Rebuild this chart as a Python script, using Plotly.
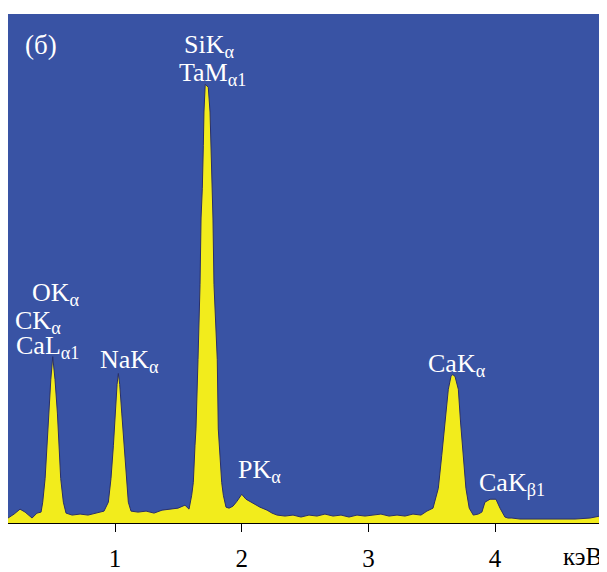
import plotly.graph_objects as go

# Spectrum: energy (keV) and intensity (arbitrary counts)
energy_kev = [
    0.155, 0.203, 0.250, 0.290, 0.345, 0.384, 0.416,
    0.429, 0.448, 0.461, 0.479, 0.493, 0.508, 0.526, 0.545, 0.560, 0.571, 0.592, 0.613,
    0.661, 0.724, 0.787, 0.850, 0.913,
    0.947, 0.968, 0.987, 1.000, 1.016, 1.026, 1.037, 1.053, 1.071, 1.087, 1.105, 1.126,
    1.182, 1.245, 1.308, 1.371, 1.434, 1.497, 1.552, 1.584,
    1.605, 1.618, 1.631, 1.639, 1.655, 1.660, 1.671, 1.679, 1.689, 1.697, 1.702, 1.712,
    1.736, 1.750, 1.758, 1.769, 1.773, 1.781, 1.797, 1.807, 1.815, 1.823, 1.842, 1.855,
    1.876, 1.900, 1.931, 1.963, 2.000, 2.034, 2.089, 2.144, 2.200, 2.239, 2.279,
    2.342, 2.405, 2.468, 2.531, 2.594, 2.657, 2.721, 2.784, 2.847, 2.910, 2.973,
    3.036, 3.099, 3.163, 3.226, 3.289, 3.352, 3.415, 3.462,
    3.510, 3.552, 3.579, 3.605, 3.631, 3.652, 3.665, 3.684, 3.710, 3.728, 3.749, 3.770,
    3.796, 3.828, 3.867, 3.896, 3.920, 3.960, 3.976, 4.007, 4.039, 4.078, 4.102, 4.133,
    4.197, 4.275, 4.394, 4.512, 4.631, 4.749, 4.828, 4.867,
]
counts = [
    5, 9, 14, 11, 5, 10, 11,
    21, 45, 78, 111, 145, 168, 145, 111, 78, 45, 21, 10,
    8, 9, 8, 10, 12,
    21, 45, 78, 111, 140, 151, 140, 111, 78, 45, 21, 12,
    11, 12, 10, 13, 14, 15, 18, 14,
    28, 41, 78, 95, 165, 185, 241, 308, 338, 381, 415, 443,
    440, 415, 381, 338, 308, 241, 185, 165, 95, 78, 41, 28,
    16, 15, 17, 22, 29, 24, 20, 16, 13, 10, 8,
    7, 8, 6, 8, 7, 9, 7, 8, 6, 8,
    7, 8, 9, 7, 8, 7, 9, 8,
    12, 15, 35, 68, 101, 135, 148, 150, 148, 135, 101, 68,
    35, 15, 8, 9, 11, 21, 24, 24, 24, 15, 6, 5,
    5, 4, 4, 4, 4, 4, 5, 7,
]

tick_values = [1, 2, 3, 4]
tick_labels = ["1", "2", "3", "4"]
axis_unit = "кэВ"
panel_label = "(б)"

# Peak labels: text, x (keV), y (counts)
peak_labels = [
    ("SiK<sub>α</sub>", 1.745, 482),
    ("TaM<sub>α1</sub>", 1.77, 453),
    ("OK<sub>α</sub>", 0.535, 231),
    ("CK<sub>α</sub>", 0.394, 203),
    ("CaL<sub>α1</sub>", 0.47, 178),
    ("NaK<sub>α</sub>", 1.114, 164),
    ("PK<sub>α</sub>", 2.137, 53),
    ("CaK<sub>α</sub>", 3.70, 160),
    ("CaK<sub>β1</sub>", 4.135, 39),
]

SERIF = "Liberation Serif"
BLUE = "#3953a4"
YELLOW = "#f2ec1c"

fig = go.Figure()
fig.add_trace(go.Scatter(
    x=energy_kev, y=counts, mode="lines",
    fill="tozeroy", fillcolor=YELLOW,
    line=dict(color="#2a2f6a", width=1),
    hoverinfo="skip", showlegend=False,
))

for text, xv, yv in peak_labels:
    fig.add_annotation(x=xv, y=yv, xref="x", yref="y", text=text,
                       showarrow=False, xanchor="center", yanchor="middle",
                       font=dict(family=SERIF, size=26, color="white"))

fig.add_annotation(x=0.025, y=0.939, xref="paper", yref="paper", text=panel_label,
                   showarrow=False, xanchor="left", yanchor="middle",
                   font=dict(family=SERIF, size=27, color="white"))

fig.add_annotation(x=1.0, y=-0.066, xref="paper", yref="paper", text=axis_unit,
                   showarrow=False, xanchor="right", yanchor="middle",
                   font=dict(family=SERIF, size=25, color="black"))

# The page body has an 8px default margin, so the figure is sized to fit inside it.
fig.update_layout(
    width=599, height=564,
    margin=dict(l=0, r=3, t=6, b=44),
    paper_bgcolor="white", plot_bgcolor=BLUE,
    xaxis=dict(range=[0.155, 4.86], tickvals=tick_values, ticktext=tick_labels,
               ticks="outside", ticklen=8, tickcolor="black", tickwidth=1,
               showline=True, linecolor="black", linewidth=1,
               showgrid=False, zeroline=False, ticklabelstandoff=5,
               tickfont=dict(family=SERIF, size=25, color="black")),
    yaxis=dict(range=[0, 514], showticklabels=False, showgrid=False,
               zeroline=False, ticks=""),
)

fig.write_html("out.html")
